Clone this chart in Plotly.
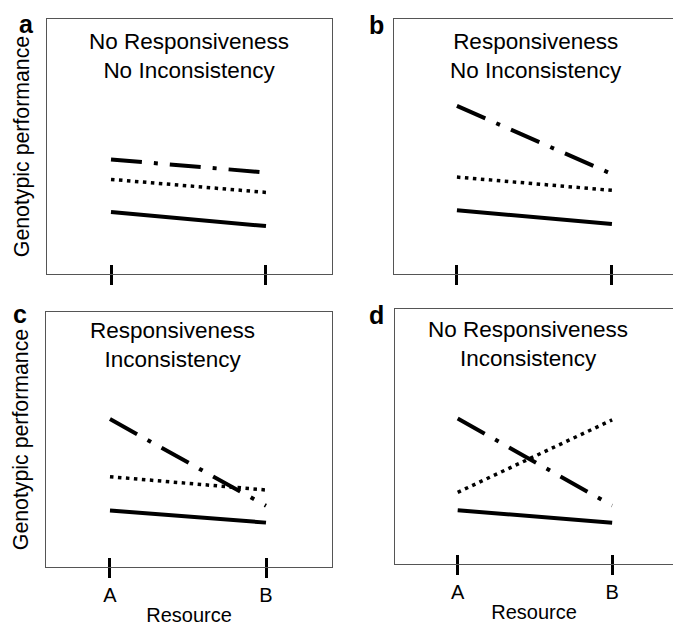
import plotly.graph_objects as go

W, H = 673, 628

# ---- data ----
resource_levels = ["A", "B"]
resource_x = [1, 2]

panel_letters = ["a", "b", "c", "d"]
panel_titles = [
    "No Responsiveness<br>No Inconsistency",
    "Responsiveness<br>No Inconsistency",
    "Responsiveness<br>Inconsistency",
    "No Responsiveness<br>Inconsistency",
]

# genotypic performance (relative units, 0-100) at resource A and B
a_dashdot = [44.9, 39.8]
a_dotted = [37.1, 32.0]
a_solid = [24.3, 18.8]

b_dashdot = [65.9, 39.2]
b_dotted = [38.0, 32.8]
b_solid = [25.0, 19.6]

c_dashdot = [58.0, 24.0]
c_dotted = [35.4, 30.2]
c_solid = [22.2, 17.4]

d_dashdot = [57.1, 22.9]
d_dotted = [28.1, 56.5]
d_solid = [21.1, 16.2]

y_title = "Genotypic performance"
x_title = "Resource"

panels_data = [
    (a_dashdot, a_dotted, a_solid),
    (b_dashdot, b_dotted, b_solid),
    (c_dashdot, c_dotted, c_solid),
    (d_dashdot, d_dotted, d_solid),
]

# ---- layout geometry (pixels) ----
def px(x):
    return x / W

def py(y):
    return 1 - y / H

boxes = [  # left, right, top, bottom
    (47, 332, 19, 274),
    (394, 673, 19, 274),
    (46, 332, 312, 567),
    (395, 673, 309, 564),
]
xranges = [[0.587, 2.426], [0.594, 2.394], [0.59, 2.423], [0.594, 2.394]]

FONT = "Liberation Sans, Arial, Helvetica, sans-serif"
LINE_COL = "#555555"

fig = go.Figure()
layout = dict(
    width=W, height=H, margin=dict(l=0, r=0, t=0, b=0), autosize=False,
    paper_bgcolor="white", plot_bgcolor="white", showlegend=False,
    font=dict(family=FONT, color="black"),
)

styles = [
    dict(color="black", width=4, dash="31px,12px,4px,12px"),
    dict(color="black", width=3.5, dash="3.5px,4.5px"),
    dict(color="black", width=4, dash="solid"),
]

for i, (series, box, xr) in enumerate(zip(panels_data, boxes, xranges)):
    n = i + 1
    xa = f"x{n}" if n > 1 else "x"
    ya = f"y{n}" if n > 1 else "y"
    xkey = f"xaxis{n}" if n > 1 else "xaxis"
    ykey = f"yaxis{n}" if n > 1 else "yaxis"
    l, r, t, b = box
    bottom_row = i >= 2
    left_col = i % 2 == 0
    for vals, st in zip(series, styles):
        fig.add_trace(go.Scatter(x=resource_x, y=vals, mode="lines", line=st,
                                 xaxis=xa, yaxis=ya, hoverinfo="skip"))
    layout[xkey] = dict(
        domain=[px(l), min(1.0, px(r))], anchor=ya, range=xr,
        showline=True, linecolor=LINE_COL, linewidth=1.2, mirror=True,
        showgrid=False, zeroline=False,
        ticks="outside", ticklen=10, tickwidth=2.5, tickcolor="black",
        tickvals=resource_x, ticktext=resource_levels,
        showticklabels=bottom_row, tickfont=dict(size=20, color="black"),
        title=dict(text=x_title if bottom_row else "", font=dict(size=20), standoff=2),
    )
    layout[ykey] = dict(
        domain=[py(b), py(t)], anchor=xa, range=[0, 100],
        showline=True, linecolor=LINE_COL, linewidth=1.2, mirror=left_col,
        showgrid=False, zeroline=False, ticks="", showticklabels=False,
        title=dict(text=y_title if left_col else "", font=dict(size=21.3), standoff=10),
    )
    # overlay axis providing the inner half of the crossing tick marks
    on = n + 4
    okey = f"xaxis{on}"
    fig.add_trace(go.Scatter(x=[None], y=[None], xaxis=f"x{on}", yaxis=ya,
                             hoverinfo="skip", showlegend=False))
    layout[okey] = dict(
        overlaying=xa, anchor=ya, range=xr, showline=False, showgrid=False,
        zeroline=False, ticks="inside", ticklen=9, tickwidth=2.5,
        tickcolor="black", tickvals=resource_x, showticklabels=False,
    )

letter_pos = [(26, 24), (376.5, 25), (20, 314), (376.5, 315)]
title_pos = [(189, 27), (536, 27), (173, 316), (528, 315)]
ann = []
for letter, (lx, ly) in zip(panel_letters, letter_pos):
    ann.append(dict(text=f"<b>{letter}</b>", x=px(lx), y=py(ly), xref="paper", yref="paper",
                    xanchor="center", yanchor="middle", showarrow=False,
                    font=dict(size=25, color="black", family=FONT)))
for title, (tx, ty) in zip(panel_titles, title_pos):
    ann.append(dict(text=title, x=px(tx), y=py(ty), xref="paper", yref="paper",
                    xanchor="center", yanchor="top", showarrow=False, align="center",
                    font=dict(size=22.5, color="black", family=FONT)))
layout["annotations"] = ann

fig.update_layout(**layout)
fig.write_html("out.html")
